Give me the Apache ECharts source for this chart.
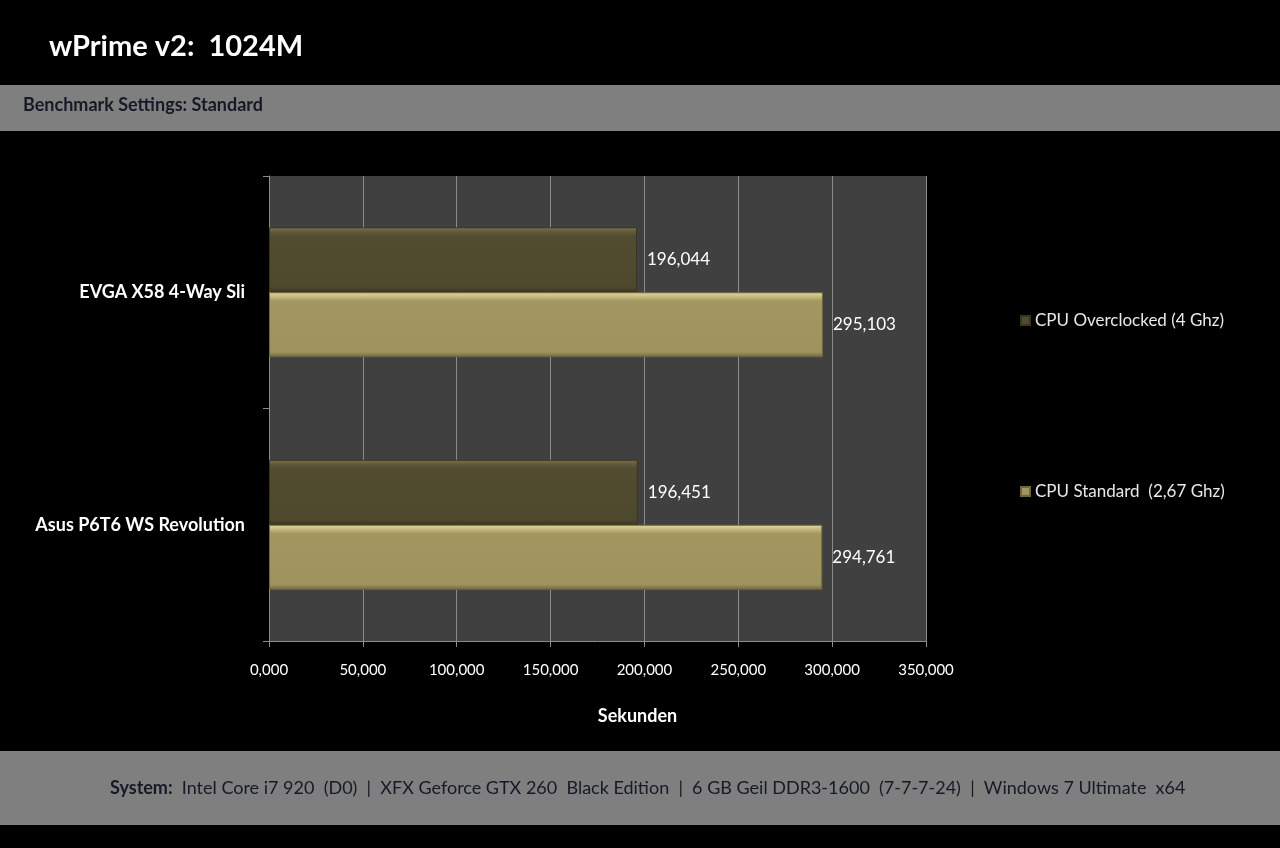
<!DOCTYPE html>
<html><head><meta charset="utf-8">
<script src="https://cdn.jsdelivr.net/npm/echarts@6/dist/echarts.min.js"></script>
<style>html,body{margin:0;padding:0;background:#000;}#c{width:1280px;height:848px;}</style>
</head><body><div id="c"></div>
<script>
const categories = ['Asus P6T6 WS Revolution', 'EVGA X58 4-Way Sli'];
const seriesNames = ['CPU Overclocked (4 Ghz)', 'CPU Standard  (2,67 Ghz)'];
const overclocked = [196.451, 196.044];
const standard = [294.761, 295.103];
const xTicks = [0, 50, 100, 150, 200, 250, 300, 350];

const FONT = 'Lato, "Open Sans", sans-serif';
const fmt = v => v.toFixed(3).replace('.', ',');

const chart = echarts.init(document.getElementById('c'));
const darkFill = new echarts.graphic.LinearGradient(0,0,0,1,[
  {offset:0,color:'#7a7250'},{offset:0.08,color:'#5e5838'},{offset:0.14,color:'#524c30'},{offset:0.92,color:'#4e482d'},{offset:1,color:'#3a3520'}]);
const lightFill = new echarts.graphic.LinearGradient(0,0,0,1,[
  {offset:0,color:'#e8dc9a'},{offset:0.08,color:'#bfb37a'},{offset:0.14,color:'#a29760'},{offset:0.92,color:'#9e935c'},{offset:1,color:'#6e6640'}]);

chart.setOption({
  backgroundColor: '#000',
  animation: false,
  textStyle: { fontFamily: FONT },
  graphic: [
    { type:'rect', shape:{x:0,y:85,width:1280,height:46}, style:{fill:'#7f7f7f'}, z:-1 },
    { type:'text', left:23, top:96, style:{text:'Benchmark Settings: Standard', fill:'#151a26', font:'bold 18px ' + FONT} },
    { type:'rect', shape:{x:0,y:751,width:1280,height:74}, style:{fill:'#7f7f7f'}, z:-1 },
    { type:'text', left:110, top:779, style:{
        text:'{b|System:}  Intel Core i7 920  (D0)  |  XFX Geforce GTX 260  Black Edition  |  6 GB Geil DDR3-1600  (7-7-7-24)  |  Windows 7 Ultimate  x64',
        fill:'#151a26', font:'18px ' + FONT,
        rich:{ b:{ fontWeight:'bold', fontSize:18, fill:'#151a26', fontFamily: FONT } } } }
  ],
  title: {
    text: 'wPrime v2:  1024M', left: 44, top: 27,
    textStyle: { color:'#fff', fontSize: 29, fontWeight:'bold', fontFamily: FONT }
  },
  legend: {
    orient:'vertical', left: 1015, top: 307, itemGap: 154,
    itemWidth: 9, itemHeight: 9, icon:'rect',
    textStyle:{ color:'#e8e8e8', fontSize:17, fontFamily: FONT },
    data: seriesNames
  },
  grid: { left: 269, right: 354, top: 176, bottom: 207, backgroundColor:'#404040', show:true, borderWidth:0 },
  xAxis: {
    type:'value', min:0, max:350, interval:50,
    name:'Sekunden', nameLocation:'middle', nameGap: 66,
    nameTextStyle:{ color:'#fff', fontSize:18, fontWeight:'bold', fontFamily: FONT, padding:[0,0,0,80] },
    axisLine:{ show:true, lineStyle:{ color:'#8c8c8c' } },
    axisTick:{ show:true, length:6, lineStyle:{ color:'#8c8c8c' } },
    splitLine:{ show:true, lineStyle:{ color:'#8c8c8c', width:1 } },
    axisLabel:{ color:'#fff', fontSize:15, margin:22, formatter: v => fmt(v) }
  },
  yAxis: {
    type:'category', data: categories,
    axisLine:{ show:true, lineStyle:{ color:'#8c8c8c' } },
    axisTick:{ show:true, length:6, lineStyle:{ color:'#8c8c8c' } },
    axisLabel:{ color:'#fff', fontSize:18, fontWeight:'bold', margin:24 }
  },
  series: [
    { name: seriesNames[0], type:'bar', data: overclocked, barWidth: 65, barGap:'0%',
      itemStyle:{ color: darkFill, borderColor:'#3a3520', borderWidth:1 },
      label:{ show:true, position:'right', color:'#fff', fontSize:17, distance:10, formatter: p => fmt(p.value) } },
    { name: seriesNames[1], type:'bar', data: standard, barWidth: 65, barGap:'0%',
      itemStyle:{ color: lightFill, borderColor:'#6e6640', borderWidth:1 },
      label:{ show:true, position:'right', color:'#fff', fontSize:17, distance:10, formatter: p => fmt(p.value) } }
  ]
});
</script></body></html>
